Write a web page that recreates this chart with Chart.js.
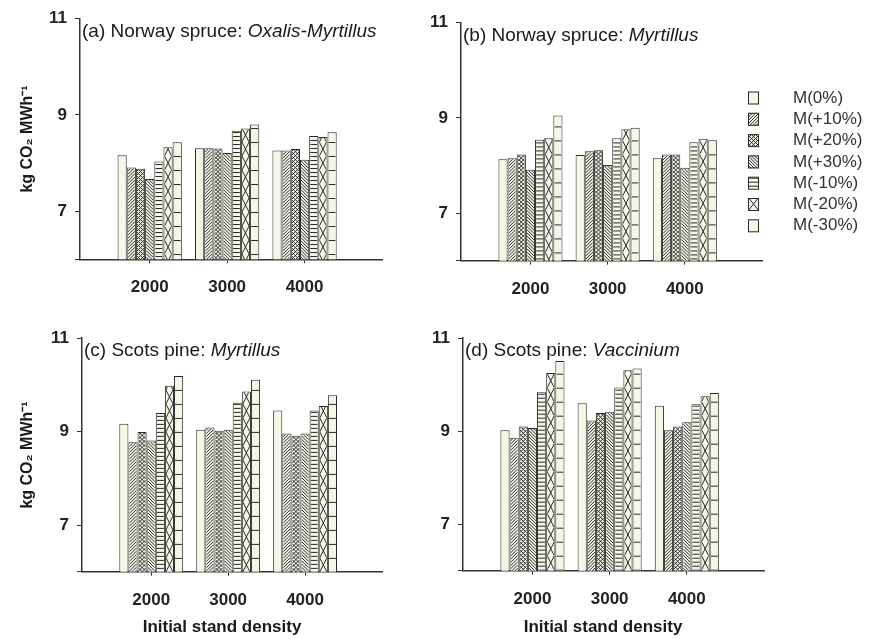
<!DOCTYPE html>
<html>
<head>
<meta charset="utf-8">
<script src="https://cdn.jsdelivr.net/npm/chart.js@4.4.0/dist/chart.umd.min.js"></script>
<style>
body{margin:0;background:#fff;}
#wrap{position:relative;width:877px;height:639px;overflow:hidden;}
#wrap canvas{position:absolute;}
</style>
</head>
<body>
<div id="wrap">
  <canvas id="pa" width="420" height="320" style="left:0;top:0"></canvas>
  <canvas id="pb" width="477" height="320" style="left:400px;top:0"></canvas>
  <canvas id="pc" width="420" height="319" style="left:0;top:320px"></canvas>
  <canvas id="pd" width="477" height="319" style="left:400px;top:320px"></canvas>
</div>
<script>
const density = [2000, 3000, 4000];
const yTickLabels = [7, 9, 11];
const seriesNames = ["M(0%)", "M(+10%)", "M(+20%)", "M(+30%)", "M(-10%)", "M(-20%)", "M(-30%)"];
const hatches = ["none", "fdiag", "cross", "bdiag", "hlines", "xcross", "boxes"];

// one row per series, values at 2000 / 3000 / 4000
const spruceOxalis = [
  [8.16, 8.31, 8.26],
  [7.91, 8.31, 8.26],
  [7.88, 8.30, 8.29],
  [7.67, 8.21, 8.07],
  [8.03, 8.67, 8.56],
  [8.33, 8.72, 8.54],
  [8.43, 8.80, 8.64]
];
const spruceMyrtillus = [
  [8.13, 8.22, 8.15],
  [8.15, 8.30, 8.23],
  [8.23, 8.32, 8.23],
  [7.91, 8.01, 7.95],
  [8.54, 8.57, 8.49],
  [8.57, 8.76, 8.56],
  [9.05, 8.79, 8.53]
];
const pineMyrtillus = [
  [9.17, 9.04, 9.45],
  [8.77, 9.09, 8.96],
  [8.99, 9.02, 8.91],
  [8.81, 9.04, 8.96],
  [9.40, 9.62, 9.45],
  [9.98, 9.86, 9.55],
  [10.19, 10.11, 9.78]
];
const pineVaccinium = [
  [9.02, 9.60, 9.55],
  [8.86, 9.23, 9.02],
  [9.10, 9.39, 9.10],
  [9.07, 9.42, 9.19],
  [9.84, 9.94, 9.58],
  [10.25, 10.31, 9.75],
  [10.51, 10.35, 9.82]
];

const FONT = '"Liberation Sans", Arial, sans-serif';
const INK = "#2a2a2a";
const FILL = "#f6f6e6";

function drawHatch(ctx, kind, x0, y0, x1, y1){
  if(kind === "none" || x1 <= x0 || y1 <= y0) return;
  const w = x1 - x0, h = y1 - y0;
  ctx.save();
  ctx.beginPath();
  ctx.rect(x0, y0, w, h);
  ctx.clip();
  ctx.strokeStyle = INK;
  ctx.lineWidth = 1;
  ctx.beginPath();
  if(kind === "fdiag" || kind === "cross"){
    const s = kind === "cross" ? 4 : 3.2;
    for(let k = -w; k < h + w; k += s){ ctx.moveTo(x0, y1 - k); ctx.lineTo(x1, y1 - k - w); }
  }
  if(kind === "bdiag" || kind === "cross"){
    const s = kind === "cross" ? 4 : 3.2;
    for(let k = -w; k < h + w; k += s){ ctx.moveTo(x0, y1 - k - w); ctx.lineTo(x1, y1 - k); }
  }
  if(kind === "hlines"){
    for(let yy = y1 - 4; yy > y0; yy -= 4){ ctx.moveTo(x0, yy + 0.5); ctx.lineTo(x1, yy + 0.5); }
  }
  if(kind === "boxes"){
    for(let yy = y1 - 14; yy > y0; yy -= 14){ ctx.moveTo(x0, yy + 0.5); ctx.lineTo(x1, yy + 0.5); }
  }
  if(kind === "xcross"){
    const p = 14;
    for(let yy = y1; yy > y0 - p; yy -= p){
      ctx.moveTo(x0, yy); ctx.lineTo(x1, yy - p);
      ctx.moveTo(x1, yy); ctx.lineTo(x0, yy - p);
    }
  }
  ctx.stroke();
  ctx.restore();
}

const hatchPlugin = {
  id: "hatch",
  afterDatasetsDraw(chart){
    const ctx = chart.ctx;
    const area = chart.chartArea;
    ctx.save();
    ctx.beginPath();
    ctx.rect(area.left, area.top, area.right - area.left, area.bottom - area.top);
    ctx.clip();
    chart.data.datasets.forEach((ds, i) => {
      chart.getDatasetMeta(i).data.forEach(bar => {
        const p = bar.getProps(["x", "y", "base", "width"], true);
        drawHatch(ctx, ds.hatch, p.x - p.width / 2 + 1, p.y + 1, p.x + p.width / 2 - 1, p.base);
      });
    });
    ctx.restore();
  }
};

const textPlugin = {
  id: "panelText",
  afterDraw(chart){
    const o = chart.options.plugins.panelText;
    const ctx = chart.ctx;
    const a = chart.chartArea;
    ctx.save();
    ctx.fillStyle = "#1a1a1a";
    ctx.textBaseline = "alphabetic";
    // panel title, species name in italics
    ctx.font = "19px " + FONT;
    ctx.textAlign = "left";
    ctx.fillText(o.title[0], a.left + 2, a.top + 18);
    const tw = ctx.measureText(o.title[0]).width;
    ctx.font = "italic 19px " + FONT;
    ctx.fillText(o.title[1], a.left + 2 + tw, a.top + 18);

    if(o.yTitle){
      ctx.save();
      ctx.translate(28, (a.top + a.bottom) / 2);
      ctx.rotate(-Math.PI / 2);
      ctx.font = "bold 16px " + FONT;
      ctx.textAlign = "center";
      ctx.textBaseline = "middle";
      ctx.fillText("kg CO\u2082 MWh\u207B\u00B9", 0, 0);
      ctx.restore();
    }
    if(o.xTitle){
      ctx.font = "bold 17px " + FONT;
      ctx.textAlign = "center";
      ctx.textBaseline = "middle";
      ctx.fillText("Initial stand density", a.left + 140, chart.height - 12);
    }
    if(o.legend){
      ctx.textBaseline = "middle";
      ctx.textAlign = "left";
      ctx.font = "17px " + FONT;
      seriesNames.forEach((name, i) => {
        const y = 98 + i * 21.3;
        ctx.fillStyle = FILL;
        ctx.fillRect(348, y - 6.5, 11, 13);
        drawHatch(ctx, hatches[i], 348, y - 6.5, 359, y + 6.5);
        ctx.strokeStyle = INK;
        ctx.lineWidth = 1;
        ctx.strokeRect(348.5, y - 6, 10, 12);
        ctx.fillStyle = "#333";
        ctx.fillText(name, 393, y);
      });
    }
    ctx.restore();
  }
};

function makePanel(id, values, opts){
  const canvas = document.getElementById(id);
  const W = canvas.width, H = canvas.height;
  const area = opts.area;
  const datasets = values.map((row, i) => ({
    label: seriesNames[i],
    data: row.map((v, j) => ({ x: density[j], y: v })),
    backgroundColor: FILL,
    borderColor: INK,
    borderWidth: 1,
    borderSkipped: "bottom",
    hatch: hatches[i],
    categoryPercentage: 0.83,
    barPercentage: 1.0
  }));
  new Chart(canvas, {
    type: "bar",
    data: { datasets },
    options: {
      responsive: false,
      animation: false,
      devicePixelRatio: 1,
      layout: { padding: { left: 0, top: area.top, right: W - area.right, bottom: 0 } },
      plugins: {
        legend: { display: false },
        tooltip: { enabled: false },
        panelText: opts
      },
      scales: {
        x: {
          type: "linear",
          offset: false,
          min: 1100,
          max: 5000,
          afterBuildTicks: s => { s.ticks = density.map(v => ({ value: v })); },
          afterFit: s => { s.height = H - area.bottom; },
          ticks: { callback: v => String(v), color: "#222", padding: 14, maxRotation: 0,
                   font: { family: FONT, size: 17, weight: "bold" } },
          grid: { offset: false, drawOnChartArea: false, tickLength: 4, color: "#333", tickColor: "#333" },
          border: { color: "#333", width: 1.5 }
        },
        y: {
          min: 6,
          max: 11,
          afterBuildTicks: s => { s.ticks = [6].concat(yTickLabels).map(v => ({ value: v })); },
          afterFit: s => { s.width = area.left; },
          ticks: { callback: v => yTickLabels.includes(v) ? String(v) : "", color: "#222", padding: 8,
                   font: { family: FONT, size: 17, weight: "bold" } },
          grid: { drawOnChartArea: false, tickLength: 5, color: "#333", tickColor: "#333" },
          border: { color: "#333", width: 1.5 }
        }
      }
    },
    plugins: [hatchPlugin, textPlugin]
  });
}

makePanel("pa", spruceOxalis, {
  title: ["(a) Norway spruce: ", "Oxalis-Myrtillus"], yTitle: true, xTitle: false, legend: false,
  area: { left: 80, right: 382, top: 18.7, bottom: 259.3 }
});
makePanel("pb", spruceMyrtillus, {
  title: ["(b) Norway spruce: ", "Myrtillus"], yTitle: false, xTitle: false, legend: true,
  area: { left: 61, right: 362, top: 22.6, bottom: 260.7 }
});
makePanel("pc", pineMyrtillus, {
  title: ["(c) Scots pine: ", "Myrtillus"], yTitle: true, xTitle: true, legend: false,
  area: { left: 82, right: 382, top: 12.3, bottom: 251.7 }
});
makePanel("pd", pineVaccinium, {
  title: ["(d) Scots pine: ", "Vaccinium"], yTitle: false, xTitle: true, legend: false,
  area: { left: 63, right: 364, top: 12.6, bottom: 250.7 }
});
</script>
</body>
</html>
